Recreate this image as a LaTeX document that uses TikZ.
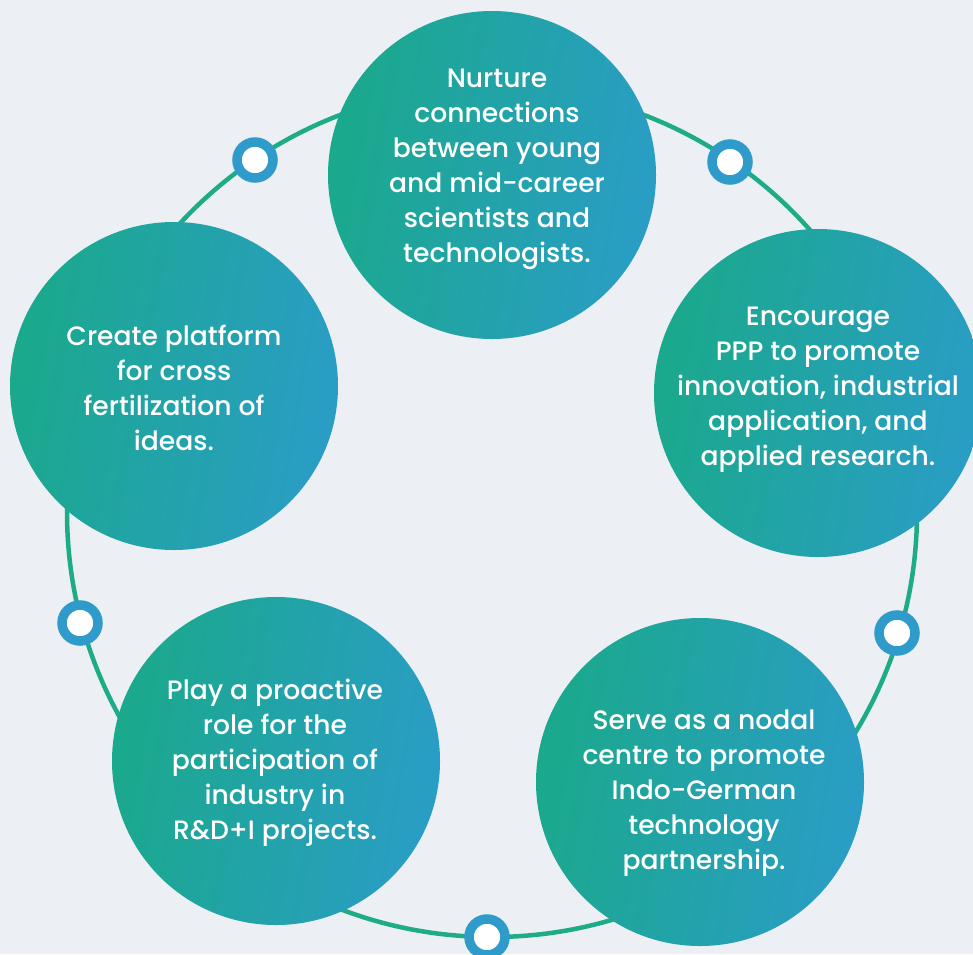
\documentclass[tikz,border=0pt]{standalone}
\usepackage{fontspec}
\setmainfont{Poppins Medium}
\definecolor{bgc}{HTML}{ECEFF3}
\definecolor{cg}{HTML}{1AA98B}
\definecolor{cb}{HTML}{2A9DC6}
\definecolor{ringc}{HTML}{1DAC87}
\definecolor{markc}{HTML}{2F9BCB}
\tikzset{
  bubble/.style={circle, minimum size=328pt, inner sep=0pt, left color=cg, right color=cb, shading angle=80},
  btext/.style={text=white, align=center, font=\fontsize{26.6}{35}\selectfont},
  marker/.style={circle, draw=markc, line width=9.5pt, fill=white, minimum size=36pt, inner sep=0pt},
  ring/.style={draw=ringc, line width=4.5pt}
}
\begin{document}
\begin{tikzpicture}[x=1pt,y=-1pt]
\fill[bgc] (0,0) rectangle (973,954);
\useasboundingbox (0,0) rectangle (973,954);
\coordinate (c) at (492,512);
\draw[ring] (c) circle[radius=425];
\node[marker] (m1) at (255,160) {};
\node[marker] (m2) at (730,162) {};
\node[marker] (m3) at (897,633) {};
\node[marker] (m4) at (487,937) {};
\node[marker] (m5) at (80,623) {};
\node[bubble] (b1) at (492,175) {};
\node[bubble] (b2) at (818,393) {};
\node[bubble] (b3) at (700,782) {};
\node[bubble] (b4) at (276,761) {};
\node[bubble] (b5) at (174,386) {};
\node[btext] (t1) at (497,169) {Nurture\\connections\\between young\\and mid-career\\scientists and\\technologists.};
\node[btext] (t2) at (818,390) {Encourage\\PPP to promote\\innovation, industrial\\application, and\\applied research.};
\node[btext] (t3) at (704,793) {Serve as a nodal\\centre to promote\\Indo-German\\technology\\partnership.};
\node[btext] (t4) at (275,763) {Play a proactive\\role for the\\participation of\\industry in\\R\&D+I projects.};
\node[btext] (t5) at (174,388) {Create platform\\for cross\\fertilization of\\ideas.};
\end{tikzpicture}
\end{document}
